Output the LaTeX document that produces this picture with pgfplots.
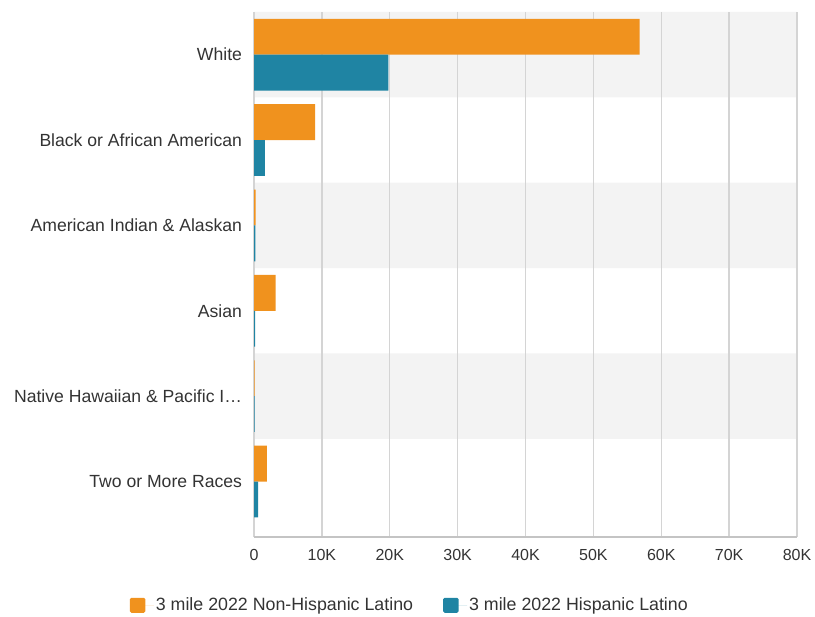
\documentclass[border=0pt]{standalone}
\usepackage{pgfplots}
\pgfplotsset{compat=1.18}
\usepackage{fontspec}
\setmainfont{Liberation Sans}
\definecolor{cOrange}{HTML}{F0921E}
\definecolor{cTeal}{HTML}{1F84A3}
\definecolor{band}{HTML}{F3F3F3}
\definecolor{gridc}{HTML}{D4D4D4}
\definecolor{linec}{HTML}{C4C4C4}
\definecolor{txt}{HTML}{333333}
\pgfplotsset{sqlegend/.style={legend image code/.code={\path (0bp,0bp) -- (24bp,0bp);\fill[##1, rounded corners=1.5bp] (0bp,-7.5bp) rectangle (15.5bp,7.5bp);}}}
\begin{document}
\begin{tikzpicture}
\begin{axis}[
  set layers,
  at={(0,0)}, anchor=south west,
  scale only axis, width=543bp, height=525bp,
  xmin=0, xmax=80000, ymin=-0.65, ymax=5.5,
  axis x line*=bottom, axis y line*=left,
  y axis line style={draw=none},
  x axis line style={draw=linec, line width=2bp},
  xmajorgrids, grid style={draw=gridc, line width=1.4bp},
  major tick length=0,
  xtick={0,10000,20000,30000,40000,50000,60000,70000,80000},
  xticklabels={0,10K,20K,30K,40K,50K,60K,70K,80K},
  scaled x ticks=false,
  ytick={0,1,2,3,4,5},
  yticklabels={Two or More Races, Native Hawaiian \& Pacific I…, Asian, American Indian \& Alaskan, Black or African American, White},
  xticklabel style={font=\fontsize{16bp}{19bp}\selectfont, text=txt, yshift=-9bp},
  yticklabel style={font=\fontsize{17.6bp}{21bp}\selectfont, text=txt, xshift=-8.5bp},
  legend style={at={(0.287,-0.13)}, anchor=center, draw=none, fill=none,
    legend columns=2, font=\fontsize{17.8bp}{21bp}\selectfont, text=txt,
    /tikz/every even column/.append style={column sep=28bp}},
  legend cell align=left,
]
\addplot[xbar, fill=band, draw=none, bar width=1, bar shift=0, forget plot, on layer=axis background] coordinates {(80000,5) (80000,3) (80000,1)};
\addplot[xbar, fill=cOrange, draw=none, bar width=0.42, bar shift=0.21, sqlegend] coordinates {
(56800,5) (9000,4) (250,3) (3200,2) (100,1) (1900,0)};
\addlegendentry{3 mile 2022 Non-Hispanic Latino}
\addplot[xbar, fill=cTeal, draw=none, bar width=0.42, bar shift=-0.21, sqlegend] coordinates {
(19800,5) (1600,4) (200,3) (150,2) (80,1) (600,0)};
\addlegendentry{3 mile 2022 Hispanic Latino}
\end{axis}
\path (-254bp,-80bp) rectangle (561bp,537bp);
\end{tikzpicture}
\end{document}
